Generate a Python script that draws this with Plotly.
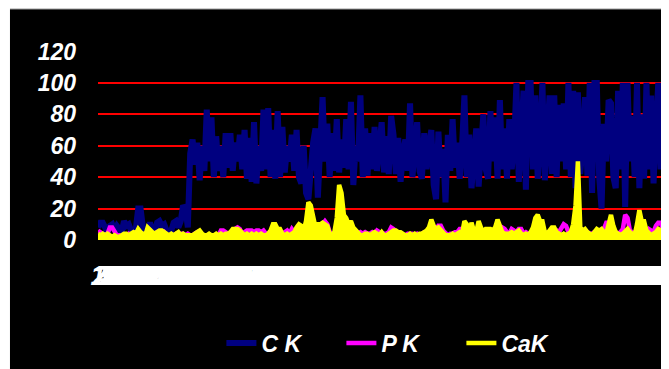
import plotly.graph_objects as go

ck = [8, 11, 11, 7, 5, 9, 10, 6, 9, 7, 5, 12, 9, 10, 6, 5, 7, 20, 20, 8,
      5, 6, 11, 6, 5, 11, 12, 9, 10, 6, 5, 6, 11, 12, 8, 12, 22, 20, 8, 55,
      64, 48, 62, 38, 60, 44, 83, 50, 78, 40, 66, 44, 60, 40, 68, 46, 68, 44, 62, 50,
      67, 45, 70, 39, 65, 37, 75, 36, 60, 44, 83, 45, 84, 40, 70, 39, 82, 40, 72, 43,
      60, 50, 67, 44, 70, 40, 36, 60, 30, 26, 50, 62, 71, 27, 60, 91, 50, 74, 40, 68,
      44, 77, 43, 64, 46, 77, 45, 88, 35, 60, 50, 92, 40, 71, 41, 68, 45, 72, 44, 66,
      75, 43, 66, 42, 79, 67, 42, 65, 37, 55, 64, 44, 87, 40, 60, 75, 44, 39, 68, 45,
      60, 70, 35, 26, 69, 40, 58, 24, 67, 44, 77, 46, 62, 39, 60, 92, 40, 67, 33, 60,
      71, 34, 60, 80, 45, 39, 82, 50, 78, 39, 89, 45, 71, 39, 77, 45, 60, 100, 37, 70,
      95, 32, 100, 100, 45, 92, 39, 65, 100, 38, 70, 92, 42, 92, 40, 86, 50, 87, 45, 100,
      40, 95, 33, 94, 42, 60, 91, 41, 100, 30, 100, 100, 40, 20, 74, 50, 89, 87, 40, 33,
      95, 45, 100, 21, 100, 50, 79, 40, 100, 33, 80, 39, 100, 45, 92, 36, 70, 100, 45, 95]

pk = [6, 5, 4, 3, 4, 8, 8, 5, 3, 3, 2, 3, 3, 4, 3, 4, 5, 5, 4, 3,
      4, 5, 6, 4, 4, 5, 4, 4, 5, 3, 3, 3, 3, 4, 4, 4, 4, 3, 4,
      3, 3, 4, 5, 4, 3, 3, 3, 3, 3, 3, 3, 3, 6, 6, 5, 4, 4, 5, 7,
      8, 7, 4, 5, 6, 6, 6, 5, 6, 6, 5, 6, 4, 4, 4, 6, 6, 5, 4, 3, 5, 6, 4,
      7, 5, 6, 8, 7, 5, 4, 4, 3, 4, 5, 6, 8, 10, 12, 10, 5, 4, 3, 4,
      5, 6, 5, 4, 4, 3, 3, 4, 4, 5, 4, 5, 4, 4, 5, 4, 6, 5, 4, 4,
      4, 5, 8, 7, 5, 4, 4, 3, 3, 4, 4, 4, 3, 4, 3, 4, 5, 5, 6, 7,
      6, 6, 9, 9, 6, 4, 3, 4, 4, 5, 5, 7, 7, 5, 6, 5, 4, 5, 6, 5,
      5, 4, 5, 6, 6, 5, 4, 5, 6, 8, 7, 5, 4, 7, 6, 5, 7, 7, 4, 5,
      4, 4, 5, 6, 6, 7, 6, 5, 4, 5, 6, 5, 6, 5, 7, 10, 9, 5, 4, 5, 6,
      6, 5, 5, 6, 5, 4, 4, 5, 6, 5, 6, 7, 11, 11, 10, 6, 5, 4, 5, 7,
      16, 14, 6, 5, 4, 4, 6, 7, 5, 5, 7, 6, 5, 9, 11, 11, 7]

cak = [4, 3, 4, 3, 4, 3, 2, 3, 2, 2, 3, 4, 4, 3, 4, 5, 4, 7, 5, 4,
       3, 8, 6, 5, 4, 5, 6, 6, 5, 4, 3, 4, 3, 4, 5, 3, 4, 3, 3,
       3, 3, 4, 5, 6, 4, 3, 3, 4, 3, 3, 4, 3, 4, 3, 4, 4, 5, 7, 7,
       7, 6, 4, 3, 4, 3, 4, 3, 4, 3, 4, 3, 3, 4, 6, 10, 10, 7, 7, 4, 3, 4, 3,
       4, 5, 8, 10, 9, 6, 12, 24, 22, 14, 8, 10, 10, 11, 10, 9, 4, 3, 5, 14,
       35, 30, 16, 14, 10, 12, 8, 6, 4, 3, 3, 4, 4, 3, 4, 5, 4, 3, 5, 3,
       3, 4, 5, 6, 6, 5, 5, 4, 3, 3, 4, 3, 4, 3, 4, 4, 5, 6, 8, 13,
       9, 7, 8, 6, 4, 3, 3, 3, 4, 3, 4, 5, 4, 12, 10, 4, 11, 6, 5, 12,
       8, 5, 7, 7, 7, 6, 8, 13, 8, 5, 4, 4, 4, 5, 4, 5, 6, 4, 3, 4,
       3, 5, 8, 14, 16, 12, 12, 5, 4, 6, 8, 8, 5, 4, 3, 4, 3, 4, 5, 10, 22,
       50, 8, 6, 7, 5, 4, 3, 5, 7, 6, 7, 5, 4, 10, 16, 9, 5, 4, 3, 4,
       6, 7, 5, 4, 3, 10, 19, 12, 12, 6, 4, 3, 4, 5, 7, 6, 5]

categories = [str(i + 1) for i in range(len(ck))]
y_ticks = [0, 20, 40, 60, 80, 100, 120]

FONT = "Arial, Liberation Sans, sans-serif"

fig = go.Figure()
fig.add_trace(go.Scatter(x=categories, y=ck, mode="lines", name="C K",
                         line=dict(color="#000080", width=6)))
fig.add_trace(go.Scatter(x=categories, y=pk, mode="lines", name="P K",
                         line=dict(color="#FF00FF", width=4.5)))
fig.add_trace(go.Scatter(x=categories, y=cak, mode="lines", showlegend=False,
                         fill="tozeroy", fillcolor="#FFFF00",
                         line=dict(color="#FFFF00", width=0), hoverinfo="skip"))
fig.add_trace(go.Scatter(x=categories, y=cak, mode="lines", name="CaK",
                         line=dict(color="#FFFF00", width=4.5)))

# thin white margins of the original picture (top and left strips)
fig.add_shape(type="rect", xref="paper", yref="paper", x0=-0.2, x1=1.1,
              y0=1.2222, y1=1.3, fillcolor="white", line=dict(color="#9a9a9a", width=1),
              layer="above")
fig.add_shape(type="rect", xref="paper", yref="paper", x0=-0.2, x1=-0.1558,
              y0=-0.8, y1=1.3, fillcolor="white", line=dict(width=0), layer="above")

fig.update_layout(
    width=661, height=361,
    margin=dict(l=90, r=6, t=43, b=129, autoexpand=False),
    paper_bgcolor="black", plot_bgcolor="black",
    showlegend=True,
    legend=dict(orientation="h", x=0.537, xanchor="center", y=-0.545, yanchor="middle",
                font=dict(family=FONT, size=23, color="white", weight="bold", style="italic"),
                bgcolor="rgba(0,0,0,0)", entrywidth=75, entrywidthmode="pixels"),
    xaxis=dict(type="category", range=[0, len(ck) - 1], showgrid=False, zeroline=False,
               showline=False, ticks="", tickmode="array", tickvals=categories,
               ticktext=categories, tickangle=0, ticklabeloverflow="allow",
               ticklabelstandoff=17, automargin=False,
               tickfont=dict(family=FONT, size=27, color="white", weight="bold", style="italic")),
    yaxis=dict(range=[0, 120.3], tickmode="array", tickvals=y_ticks, showgrid=True,
               gridcolor="#FF0000", gridwidth=2, zeroline=False, showline=False,
               ticks="", ticklabelstandoff=21, automargin=False,
               tickfont=dict(family=FONT, size=23, color="white", weight="bold", style="italic")),
)

fig.write_html("out.html")
